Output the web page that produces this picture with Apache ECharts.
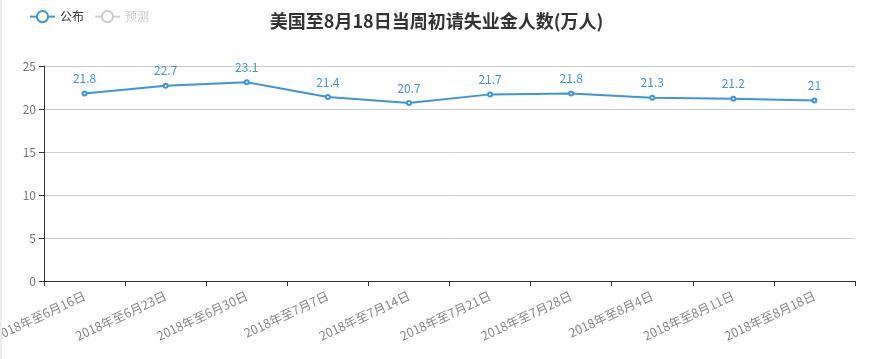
<!DOCTYPE html>
<html><head><meta charset="utf-8">
<script src="https://cdn.jsdelivr.net/npm/echarts@6/dist/echarts.min.js"></script>
<style>html,body{margin:0;padding:0;background:#fff;overflow:hidden;}#c{width:873px;height:359px;}
#wrap{position:relative;width:873px;height:359px;}
#edge{position:absolute;left:0;top:0;width:2px;height:359px;background:#e8eef4;z-index:2;}</style>
</head><body><div id="wrap"><div id="c"></div><div id="edge"></div></div>
<script>
const categories = ['2018年至6月16日','2018年至6月23日','2018年至6月30日','2018年至7月7日','2018年至7月14日','2018年至7月21日','2018年至7月28日','2018年至8月4日','2018年至8月11日','2018年至8月18日'];
const published = [21.8, 22.7, 23.1, 21.4, 20.7, 21.7, 21.8, 21.3, 21.2, 21];
const forecast = [];
const yTicks = {min: 0, max: 25, interval: 5};
const chart = echarts.init(document.getElementById('c'));
const font = '"Noto Sans CJK SC", "Noto Sans", sans-serif';
chart.setOption({
  animation: false,
  textStyle: {fontFamily: font},
  title: {text: '美国至8月18日当周初请失业金人数(万人)', left: 'center', top: 7,
    textStyle: {fontSize: 18, fontWeight: 'bold', color: '#333', fontFamily: font}},
  legend: {left: 24, top: 5, itemWidth: 25, itemHeight: 14, itemGap: 10,
    selected: {'公布': true, '预测': false},
    inactiveColor: '#ccc',
    textStyle: {fontSize: 12, color: '#333', fontFamily: font},
    data: ['公布', '预测']},
  grid: {left: 44, right: 18, top: 66, bottom: 78, outerBoundsMode: 'none', containLabel: false},
  xAxis: {type: 'category', data: categories, boundaryGap: true,
    axisLine: {lineStyle: {color: '#333'}},
    axisTick: {show: true, length: 5, lineStyle: {color: '#333'}},
    axisLabel: {rotate: 25, interval: 0, color: '#888', fontSize: 12.5, fontFamily: font, margin: 14}},
  yAxis: {type: 'value', min: yTicks.min, max: yTicks.max, interval: yTicks.interval,
    axisLine: {show: true, lineStyle: {color: '#333'}},
    axisTick: {show: true, length: 5, lineStyle: {color: '#333'}},
    axisLabel: {color: '#777', fontSize: 12, fontFamily: font},
    splitLine: {lineStyle: {color: '#ccc'}}},
  series: [
    {name: '公布', type: 'line', data: published, symbol: 'emptyCircle', symbolSize: 4,
     itemStyle: {color: '#3a96de'}, lineStyle: {width: 2, color: '#3a96de'},
     label: {show: true, position: 'top', color: '#3a96de', fontSize: 12, distance: 6, fontFamily: font}},
    {name: '预测', type: 'line', data: forecast, symbol: 'emptyCircle', symbolSize: 4,
     itemStyle: {color: '#9ac'}}
  ]
});
</script></body></html>
